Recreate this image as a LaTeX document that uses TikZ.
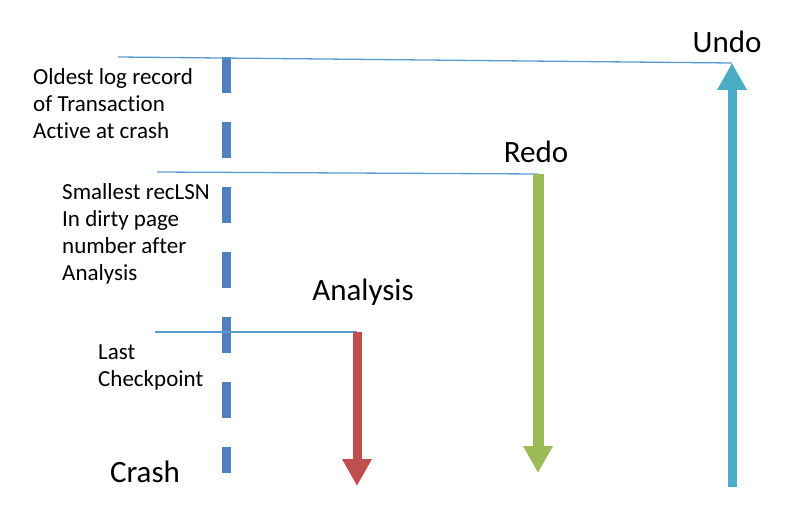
\documentclass[tikz,border=0pt]{standalone}
\usepackage{fontspec}
\setmainfont{Carlito}[Ligatures=NoCommon]
\usetikzlibrary{arrows.meta}
\definecolor{dashblue}{HTML}{4F81BD}
\definecolor{thinblue}{HTML}{5B9BD5}
\definecolor{redarr}{HTML}{C0504D}
\definecolor{greenarr}{HTML}{9BBB59}
\definecolor{cyanarr}{HTML}{4BACC6}
\begin{document}
\begin{tikzpicture}[x=1pt,y=-1pt,
  small/.style={font=\fontsize{23}{27}\selectfont, align=left, anchor=north west, inner sep=0pt},
  big/.style={font=\fontsize{31}{34}\selectfont, inner sep=0pt},
  level/.style={draw=thinblue, line width=1.3pt},
  bigarrow/.style={line width=#1, -{Triangle[width=28pt,length=27pt]}},
]
\useasboundingbox (0,0) rectangle (810,516);
% dashed timeline
\coordinate (tltop) at (226,57);
\coordinate (tlbot) at (226,473);
\draw[dashblue, line width=9pt, dash pattern=on 36pt off 29pt] (tltop) -- (tlbot);
% level lines
\coordinate (l1a) at (118,57); \coordinate (l1b) at (732,63);
\coordinate (l2a) at (157,172); \coordinate (l2b) at (538,174);
\coordinate (l3a) at (155,332); \coordinate (l3b) at (357,332);
\draw[level] (l1a) -- (l1b);
\draw[level] (l2a) -- (l2b);
\draw[level] (l3a) -- (l3b);
% arrows
\coordinate (redend) at (357,486);
\coordinate (greenend) at (538,473);
\coordinate (cyanstart) at (732,487);
\draw[redarr, bigarrow=9pt] (l3b) -- (redend);
\draw[greenarr, bigarrow=11pt] (l2b) -- (greenend);
\draw[cyanarr, bigarrow=9pt] (cyanstart) -- (l1b);
% labels
\node[small] (t1) at (33,68) {Oldest log record\\of Transaction\\Active at crash};
\node[small] (t2) at (62,183) {Smallest recLSN\\In dirty page\\number after\\Analysis};
\node[small] (t3) at (98,345) {Last\\Checkpoint};
\node[big] (undo) at (727,42) {Undo};
\node[big] (redo) at (536,152) {Redo};
\node[big] (analysis) at (363,292) {Analysis};
\node[big] (crash) at (145,472) {Crash};
\end{tikzpicture}
\end{document}
